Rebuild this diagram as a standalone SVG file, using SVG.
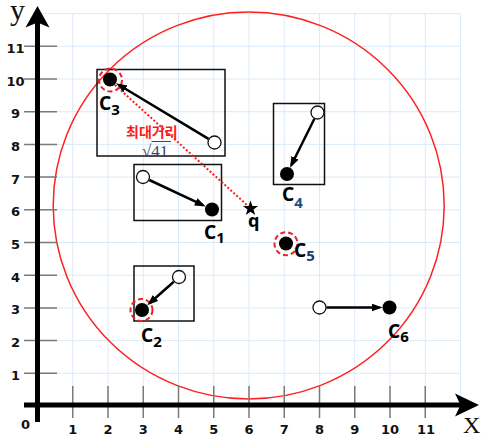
<svg xmlns="http://www.w3.org/2000/svg" width="481" height="437" viewBox="0 0 481 437">
<style>
.grid{stroke:#dbeaf8;stroke-width:1;fill:none}
.tick{stroke:#7a7a7a;stroke-width:1.5;fill:none}
.axis{stroke:#000;stroke-width:5;fill:none}
.num{font-family:"DejaVu Sans",sans-serif;font-weight:bold;font-size:13px;fill:#111;text-anchor:middle}
.box{fill:none;stroke:#111;stroke-width:1.5}
.open{fill:#fff;stroke:#111;stroke-width:1.3}
.fill{fill:#000}
.sel{fill:none;stroke:#ee2222;stroke-width:2;stroke-dasharray:5 3}
.arr{stroke:#000;stroke-width:2.5;fill:none;marker-end:url(#ah)}
.lbl{font-family:"Noto Sans","DejaVu Sans",sans-serif;font-weight:bold;font-size:19px;fill:#000}
.sub{font-size:15px}
</style>
<defs>
<marker id="ah" markerUnits="userSpaceOnUse" markerWidth="12" markerHeight="9" refX="8" refY="4" orient="auto">
<path d="M0,0 L11,4 L0,8 z" fill="#000"/>
</marker>
</defs>
<rect width="481" height="437" fill="#fff"/>
<g id="grid">
<path class="grid" d="M72.75,13.6V405 M108,13.6V405 M143.25,13.6V405 M178.5,13.6V405 M213.75,13.6V405 M249,13.6V405 M284.25,13.6V405 M319.5,13.6V405 M354.75,13.6V405 M390,13.6V405 M425.25,13.6V405 M460.5,13.6V405 M37.5,373.3H460.5 M37.5,340.6H460.5 M37.5,307.9H460.5 M37.5,275.2H460.5 M37.5,242.5H460.5 M37.5,209.8H460.5 M37.5,177.1H460.5 M37.5,144.4H460.5 M37.5,111.7H460.5 M37.5,79H460.5 M37.5,46.3H460.5 M37.5,13.6H460.5"/>
</g>
<ellipse id="range" cx="248.7" cy="205.5" rx="195.5" ry="193.5" fill="none" stroke="#ff2020" stroke-width="1.5"/>
<g id="axes">
<path class="tick" d="M24,373.3H57 M24,340.6H57 M24,307.9H57 M24,275.2H57 M24,242.5H57 M24,209.8H57 M24,177.1H57 M24,144.4H57 M24,111.7H57 M24,79H57 M24,46.3H57"/>
<path class="tick" d="M72.75,386V418 M108,386V418 M143.25,386V418 M178.5,386V418 M213.75,386V418 M249,386V418 M284.25,386V418 M319.5,386V418 M354.75,386V418 M390,386V418 M425.25,386V418"/>
<line class="axis" x1="37.5" y1="422" x2="37.5" y2="22"/>
<line class="axis" x1="24" y1="405" x2="462" y2="405"/>
<path d="M37.5,6 L49.5,27.5 L37.5,22.5 L25.5,27.5 z" fill="#000"/>
<path d="M479,405 L455,393.5 L460.5,405 L455,416.5 z" fill="#000"/>
<text x="10" y="20" font-family="Liberation Serif,serif" font-size="30" fill="#111">y</text>
<text x="463" y="433" font-family="Liberation Serif,serif" font-size="24" fill="#111">X</text>
<text class="num" x="25.5" y="429">0</text>
<text class="num" x="15.5" y="379.8">1</text>
<text class="num" x="15.5" y="347.1">2</text>
<text class="num" x="15.5" y="314.4">3</text>
<text class="num" x="15.5" y="281.7">4</text>
<text class="num" x="15.5" y="249">5</text>
<text class="num" x="15.5" y="216.3">6</text>
<text class="num" x="15.5" y="183.6">7</text>
<text class="num" x="15.5" y="150.9">8</text>
<text class="num" x="15.5" y="118.2">9</text>
<text class="num" x="15.5" y="85.5">10</text>
<text class="num" x="15.5" y="52.8">11</text>
<text class="num" x="72.75" y="434">1</text>
<text class="num" x="108" y="434">2</text>
<text class="num" x="143.25" y="434">3</text>
<text class="num" x="178.5" y="434">4</text>
<text class="num" x="213.75" y="434">5</text>
<text class="num" x="249" y="434">6</text>
<text class="num" x="284.25" y="434">7</text>
<text class="num" x="319.5" y="434">8</text>
<text class="num" x="354.75" y="434">9</text>
<text class="num" x="390" y="434">10</text>
<text class="num" x="426" y="434">11</text>
</g>
<g id="C3">
<rect class="box" x="97" y="69.5" width="128" height="86.5"/>
<circle class="open" cx="214.5" cy="142.5" r="6.5"/>
<circle class="fill" cx="110" cy="79.5" r="7"/>
<circle class="sel" cx="110.5" cy="80" r="11.5"/>
<text class="lbl" x="99" y="110">C<tspan class="sub" dy="5">3</tspan></text>
</g>
<g id="C1">
<rect class="box" x="134" y="164.5" width="87.5" height="56"/>
<circle class="open" cx="143" cy="177" r="6.5"/>
<circle class="fill" cx="212" cy="209.5" r="7"/>
<text class="lbl" x="204" y="239">C<tspan class="sub" dy="4">1</tspan></text>
</g>
<g id="C4">
<rect class="box" x="273.5" y="103.5" width="51" height="81"/>
<circle class="open" cx="317.5" cy="112.5" r="6.5"/>
<circle class="fill" cx="287" cy="174" r="7"/>
<text class="lbl" x="282" y="201">C<tspan class="sub" dy="7" fill="#1f4e8c">4</tspan></text>
</g>
<g id="C2">
<rect class="box" x="134" y="266" width="60" height="55"/>
<circle class="open" cx="179" cy="277" r="6.5"/>
<circle class="fill" cx="142" cy="310" r="7"/>
<circle class="sel" cx="141.5" cy="310" r="11"/>
<text class="lbl" x="141" y="341.5">C<tspan class="sub" dy="5">2</tspan></text>
</g>
<g id="C5">
<circle class="fill" cx="286" cy="243.5" r="7"/>
<circle class="sel" cx="286" cy="243.7" r="11.5"/>
<text class="lbl" x="294" y="257">C<tspan class="sub" dy="4" fill="#1f3864">5</tspan></text>
</g>
<g id="C6">
<circle class="open" cx="319.5" cy="307.5" r="6.5"/>
<circle class="fill" cx="389.5" cy="307.5" r="7"/>
<text class="lbl" x="388" y="337.5">C<tspan class="sub" dy="4.5">6</tspan></text>
</g>
<g id="q">
<path d="M250.5,200.5 L252.4,206.1 L258.1,206.1 L253.5,209.5 L255.2,215 L250.5,211.7 L245.8,215 L247.5,209.5 L242.9,206.1 L248.6,206.1 z" fill="#000"/>
<text x="248" y="227" font-family="Noto Sans,DejaVu Sans,sans-serif" font-weight="bold" font-size="18" fill="#000">q</text>
</g>
<g id="connectors">
<line x1="115" y1="85" x2="247" y2="205" stroke="#ff1a1a" stroke-width="2" stroke-dasharray="2 2"/>
<line class="arr" x1="208.5" y1="138.9" x2="118.6" y2="84.7"/>
<line class="arr" x1="149.3" y1="180" x2="203" y2="205.2"/>
<line class="arr" x1="314.4" y1="118.8" x2="291.4" y2="165"/>
<line class="arr" x1="173.8" y1="281.7" x2="149.5" y2="303.3"/>
<line class="arr" x1="326.5" y1="307.5" x2="379.5" y2="307.5"/>
</g>
<g id="distance-label">
<text x="126" y="137" font-family="Noto Sans CJK KR,sans-serif" font-weight="bold" font-size="14" fill="#ff1a1a">최대거리</text>
<text x="142" y="156.5" font-family="Liberation Serif,serif" font-size="17" fill="#3a4560">√41</text>
<line x1="151.5" y1="141.5" x2="171" y2="141.5" stroke="#3a4560" stroke-width="1"/>
</g>
</svg>
